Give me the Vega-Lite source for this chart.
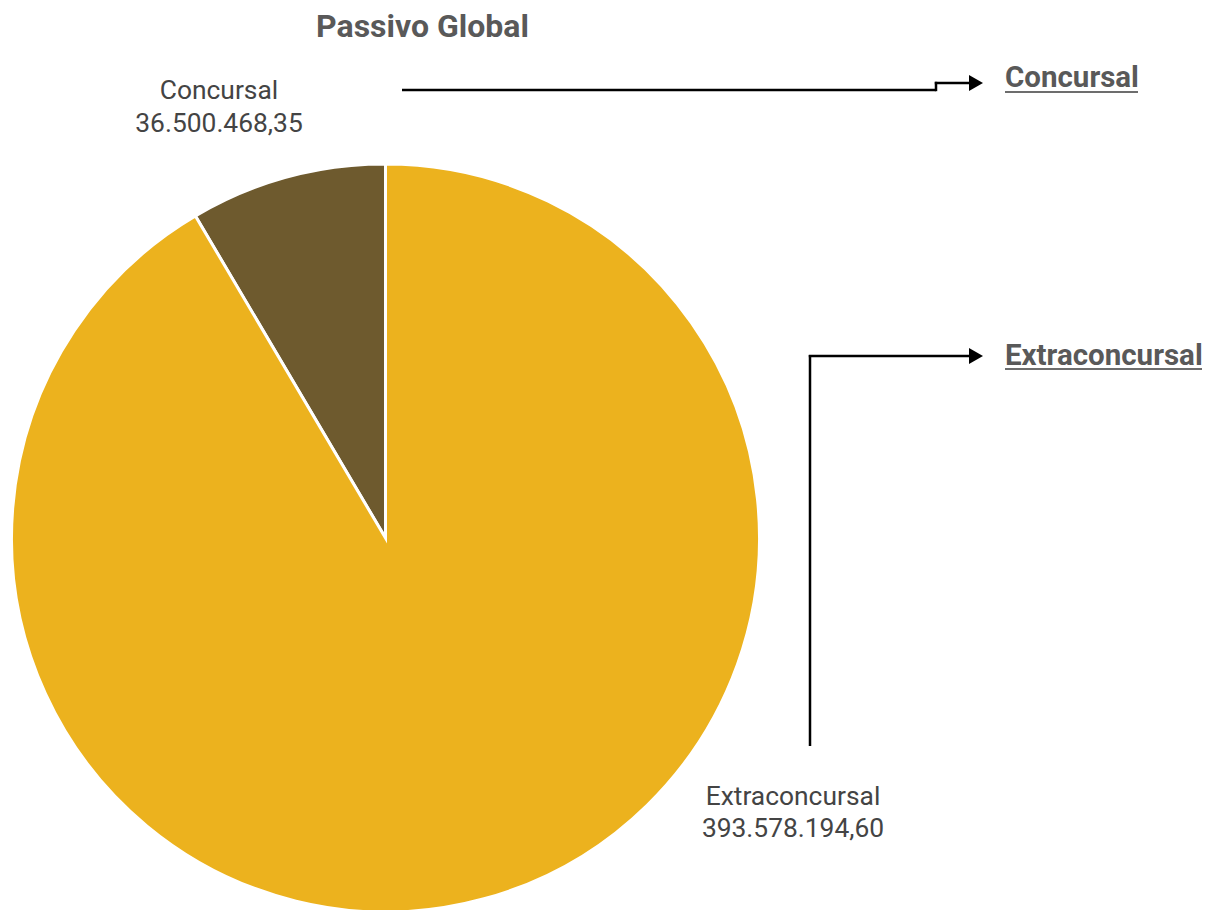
{
  "$schema": "https://vega.github.io/schema/vega-lite/v6.json",
  "width": 1207,
  "height": 910,
  "autosize": {"type": "none"},
  "padding": 0,
  "background": "white",
  "config": {
    "view": {"stroke": null},
    "locale": {"number": {"decimal": ",", "thousands": ".", "grouping": [3], "currency": ["R$ ", ""]}},
    "font": "Roboto"
  },
  "data": {"values": [
    {"category": "Concursal", "value": 36500468.35},
    {"category": "Extraconcursal", "value": 393578194.60}
  ]},
  "layer": [
    {
      "mark": {"type": "arc", "x": 385.5, "y": 538, "outerRadius": 374, "stroke": "white", "strokeWidth": 3},
      "encoding": {
        "theta": {"field": "value", "type": "quantitative", "stack": true},
        "color": {"field": "category", "type": "nominal", "scale": {"domain": ["Concursal", "Extraconcursal"], "range": ["#6e5a2e", "#ecb21e"]}, "legend": null},
        "order": {"field": "category", "sort": "descending"}
      }
    },
    {
      "transform": [{"filter": "datum.category == 'Concursal'"}],
      "mark": {"type": "text", "text": "Passivo Global", "x": 422.5, "y": 27, "align": "center", "baseline": "middle", "fontSize": 32, "font": "Roboto", "fontWeight": "bold", "color": "#595959"},
      "encoding": {}
    },
    {
      "transform": [{"filter": "datum.category == 'Concursal'"}],
      "mark": {"type": "text", "x": 219, "y": 91, "align": "center", "baseline": "middle", "fontSize": 26.4, "font": "Roboto", "color": "#444444"},
      "encoding": {"text": {"field": "category", "type": "nominal"}}
    },
    {
      "transform": [{"filter": "datum.category == 'Concursal'"}],
      "mark": {"type": "text", "x": 219, "y": 124, "align": "center", "baseline": "middle", "fontSize": 26.4, "font": "Roboto", "color": "#444444"},
      "encoding": {"text": {"field": "value", "type": "quantitative", "format": ",.2f"}}
    },
    {
      "transform": [{"filter": "datum.category == 'Extraconcursal'"}],
      "mark": {"type": "text", "x": 793, "y": 797, "align": "center", "baseline": "middle", "fontSize": 26.4, "font": "Roboto", "color": "#444444"},
      "encoding": {"text": {"field": "category", "type": "nominal"}}
    },
    {
      "transform": [{"filter": "datum.category == 'Extraconcursal'"}],
      "mark": {"type": "text", "x": 793, "y": 829, "align": "center", "baseline": "middle", "fontSize": 26.4, "font": "Roboto", "color": "#444444"},
      "encoding": {"text": {"field": "value", "type": "quantitative", "format": ",.2f"}}
    },
    {
      "mark": {"type": "text", "x": 1005, "align": "left", "baseline": "middle", "fontSize": 29.5, "font": "Roboto", "fontWeight": "bold", "color": "#595959"},
      "encoding": {
        "text": {"field": "category", "type": "nominal"},
        "y": {"field": "category", "type": "nominal", "scale": {"type": "point", "padding": 0, "domain": ["Concursal", "Extraconcursal"], "range": [78, 356]}, "axis": null}
      }
    },
    {
      "transform": [{"filter": "datum.category == 'Concursal'"}],
      "mark": {"type": "rule", "stroke": "#6d6d6d", "strokeWidth": 2},
      "encoding": {"x": {"value": 1005}, "x2": {"value": 1138}, "y": {"value": 92}}
    },
    {
      "transform": [{"filter": "datum.category == 'Extraconcursal'"}],
      "mark": {"type": "rule", "stroke": "#6d6d6d", "strokeWidth": 2},
      "encoding": {"x": {"value": 1005}, "x2": {"value": 1202}, "y": {"value": 369}}
    },
    {
      "transform": [{"filter": "datum.category == 'Concursal'"}],
      "mark": {"type": "rule", "stroke": "black", "strokeWidth": 2.5},
      "encoding": {"x": {"value": 402}, "x2": {"value": 936}, "y": {"value": 90}}
    },
    {
      "transform": [{"filter": "datum.category == 'Concursal'"}],
      "mark": {"type": "rule", "stroke": "black", "strokeWidth": 2.5},
      "encoding": {"x": {"value": 936}, "y": {"value": 91.2}, "y2": {"value": 81.8}}
    },
    {
      "transform": [{"filter": "datum.category == 'Concursal'"}],
      "mark": {"type": "rule", "stroke": "black", "strokeWidth": 2.5},
      "encoding": {"x": {"value": 934.8}, "x2": {"value": 972}, "y": {"value": 83}}
    },
    {
      "transform": [{"filter": "datum.category == 'Extraconcursal'"}],
      "mark": {"type": "rule", "stroke": "black", "strokeWidth": 2.5},
      "encoding": {"x": {"value": 810}, "y": {"value": 746}, "y2": {"value": 355}}
    },
    {
      "transform": [{"filter": "datum.category == 'Extraconcursal'"}],
      "mark": {"type": "rule", "stroke": "black", "strokeWidth": 2.5},
      "encoding": {"x": {"value": 808.8}, "x2": {"value": 972}, "y": {"value": 356}}
    },
    {
      "mark": {"type": "point", "shape": "triangle-right", "filled": true, "color": "black", "opacity": 1, "size": 260, "x": 976},
      "encoding": {
        "y": {"field": "category", "type": "nominal", "scale": {"type": "point", "padding": 0, "domain": ["Concursal", "Extraconcursal"], "range": [83, 356]}, "axis": null}
      }
    }
  ],
  "resolve": {"scale": {"y": "independent"}}
}
